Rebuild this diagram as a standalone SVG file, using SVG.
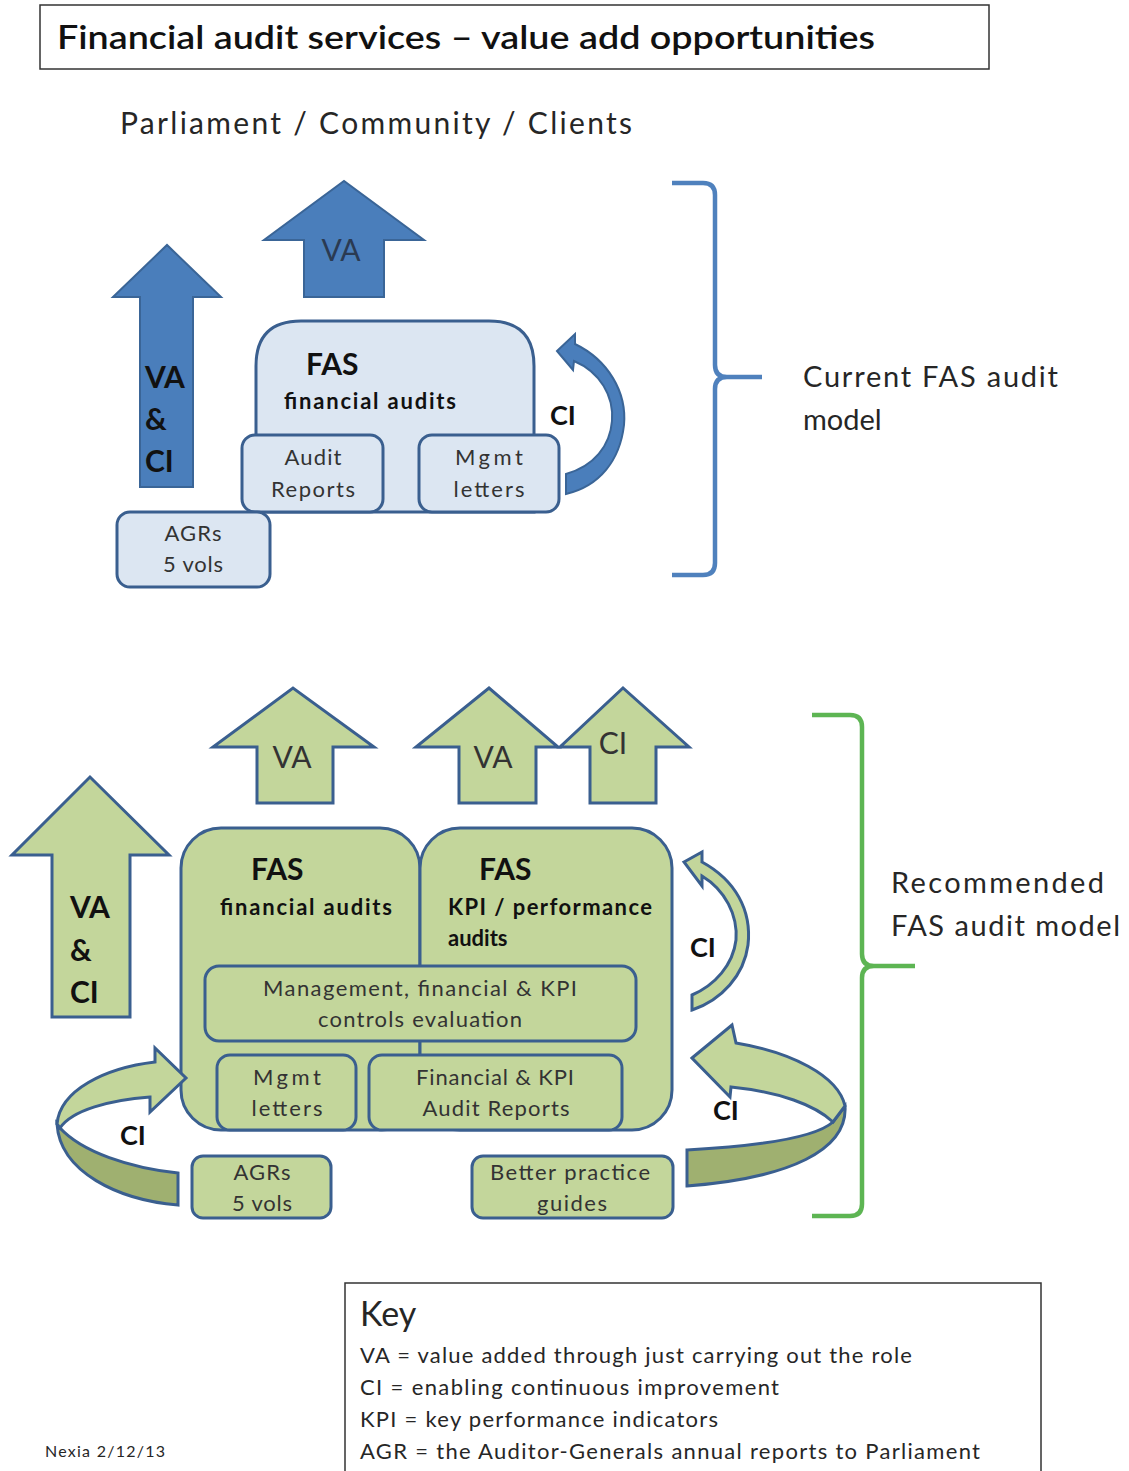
<svg xmlns="http://www.w3.org/2000/svg" width="1129" height="1471" viewBox="0 0 1129 1471">
<defs>
<style>
text{font-family:Lato,"Open Sans","Liberation Sans",sans-serif;fill:#262626}
.b{font-weight:700;fill:#111}
.box{fill:#DCE6F2;stroke:#3A5F8F;stroke-width:3}
.gbox{fill:#C3D69B;stroke:#3A5F8F;stroke-width:3}
.barr{fill:#4A7EBB;stroke:#3A6597;stroke-width:2}
.garr{fill:#C3D69B;stroke:#3A5F8F;stroke-width:3;stroke-linejoin:miter}
.gdark{fill:#9FB070;stroke:#3A5F8F;stroke-width:3}
.t22{font-size:22px;fill:#333}
.mid{text-anchor:middle}
</style>
</defs>
<rect width="1129" height="1471" fill="#fff"/>

<g id="title">
<rect x="40" y="5" width="949" height="64" fill="#fff" stroke="#333" stroke-width="1.5"/>
<text x="57" y="49" font-size="33" textLength="818" lengthAdjust="spacingAndGlyphs" style="font-weight:600;fill:#111">Financial audit services – value add opportunities</text>
</g>
<g id="audience"><text x="120" y="134" font-size="30" textLength="512">Parliament  /  Community  /  Clients</text></g>

<!-- Current model -->
<g id="cur-vaci-arrow">
<path class="barr" d="M140,487 L140,297 L113,297 L167,245 L221,297 L193,297 L193,487 Z"/>
<text class="b" x="145" y="388" font-size="30">VA</text>
<text class="b" x="145" y="430" font-size="30">&amp;</text>
<text class="b" x="145" y="472" font-size="30">CI</text>
</g>
<g id="cur-va-arrow">
<path class="barr" d="M304,297 L304,240 L264,240 L344,181 L424,240 L384,240 L384,297 Z"/>
<text class="mid" x="341" y="261" font-size="30" style="fill:#2a3a52">VA</text>
</g>
<g id="cur-fas">
<path class="box" d="M256,512 L256,366 Q256,321 301,321 L489,321 Q534,321 534,366 L534,512 Z"/>
<text class="b" x="306" y="375" font-size="30">FAS</text>
<text class="b" x="284" y="409" font-size="22" textLength="172">financial audits</text>
</g>
<g id="cur-audit-reports">
<rect class="box" x="242" y="435" width="141" height="77" rx="13"/>
<text class="t22 mid" x="313" y="465" textLength="57">Audit</text>
<text class="t22 mid" x="313" y="497" textLength="84">Reports</text>
</g>
<g id="cur-mgmt-letters">
<rect class="box" x="419" y="435" width="140" height="77" rx="13"/>
<text class="t22 mid" x="489" y="465" textLength="68">Mgmt</text>
<text class="t22 mid" x="489" y="497" textLength="71">letters</text>
</g>
<g id="cur-agrs">
<rect class="box" x="117" y="512" width="153" height="75" rx="13"/>
<text class="t22 mid" x="193" y="541" textLength="57">AGRs</text>
<text class="t22 mid" x="193" y="572" textLength="60">5 vols</text>
</g>
<g id="cur-ci-arrow">
<path class="barr" d="M557,351 L575,334 L575,344 C608,360 627,392 624,425 C620,460 600,486 566,494 L566,474 C594,466 610,446 612,421 C614,396 600,372 574,361 L573,370 Z"/>
<text class="b" x="550" y="425" font-size="27">CI</text>
</g>
<g id="cur-brace">
<path d="M672,183 L703,183 Q715,183 715,195 L715,365 Q715,377 727,377 L762,377 M727,377 Q715,377 715,389 L715,563 Q715,575 703,575 L672,575" fill="none" stroke="#4F81BD" stroke-width="4.5"/>
<text x="803" y="387" font-size="29" textLength="255">Current  FAS audit</text>
<text x="803" y="430" font-size="29">model</text>
</g>

<!-- Recommended model -->
<g id="rec-vaci-arrow">
<path class="garr" d="M52,1017 L52,855 L12,855 L90,777 L169,855 L130,855 L130,1017 Z"/>
<text class="b" x="70" y="918" font-size="30">VA</text>
<text class="b" x="70" y="961" font-size="30">&amp;</text>
<text class="b" x="70" y="1003" font-size="30">CI</text>
</g>
<g id="rec-va-arrow1">
<path class="garr" d="M257,803 L257,747 L213,747 L293,688 L374,747 L333,747 L333,803 Z"/>
<text class="mid" x="292" y="768" font-size="30" style="fill:#333">VA</text>
</g>
<g id="rec-va-arrow2">
<path class="garr" d="M459,803 L459,747 L416,747 L489,688 L558,747 L536,747 L536,803 Z"/>
<text class="mid" x="493" y="768" font-size="30" style="fill:#333">VA</text>
</g>
<g id="rec-ci-arrow-up">
<path class="garr" d="M590,803 L590,747 L560,747 L623,688 L689,747 L656,747 L656,803 Z"/>
<text class="mid" x="613" y="754" font-size="30" style="fill:#333">CI</text>
</g>
<g id="rec-fas-financial">
<rect class="gbox" x="181" y="828" width="239" height="302" rx="40"/>
<text class="b" x="251" y="880" font-size="30">FAS</text>
<text class="b" x="220" y="915" font-size="22" textLength="172">financial audits</text>
</g>
<g id="rec-fas-kpi">
<rect class="gbox" x="420" y="828" width="252" height="302" rx="40"/>
<text class="b" x="479" y="880" font-size="30">FAS</text>
<text class="b" x="448" y="915" font-size="22" textLength="204">KPI / performance</text>
<text class="b" x="448" y="946" font-size="22">audits</text>
</g>
<g id="rec-controls">
<rect class="gbox" x="205" y="966" width="431" height="75" rx="14"/>
<text class="t22 mid" x="420" y="996" textLength="314">Management, financial &amp; KPI</text>
<text class="t22 mid" x="420" y="1027" textLength="204">controls evaluation</text>
</g>
<g id="rec-mgmt-letters">
<rect class="gbox" x="217" y="1055" width="139" height="75" rx="13"/>
<text class="t22 mid" x="287" y="1085" textLength="68">Mgmt</text>
<text class="t22 mid" x="287" y="1116" textLength="71">letters</text>
</g>
<g id="rec-audit-reports">
<rect class="gbox" x="369" y="1055" width="253" height="75" rx="13"/>
<text class="t22 mid" x="495" y="1085" textLength="158">Financial &amp; KPI</text>
<text class="t22 mid" x="496" y="1116" textLength="147">Audit Reports</text>
</g>
<g id="rec-agrs">
<rect class="gbox" x="192" y="1156" width="139" height="62" rx="11"/>
<text class="t22 mid" x="262" y="1180" textLength="57">AGRs</text>
<text class="t22 mid" x="262" y="1211" textLength="60">5 vols</text>
</g>
<g id="rec-guides">
<rect class="gbox" x="472" y="1156" width="201" height="62" rx="11"/>
<text class="t22 mid" x="570" y="1180" textLength="160">Better practice</text>
<text class="t22 mid" x="572" y="1211" textLength="70">guides</text>
</g>
<g id="rec-ci-left">
<path class="gdark" d="M57,1124 C60,1172 118,1200 178,1205 L178,1173 C130,1168 82,1152 60,1128 Z"/>
<path class="garr" d="M57,1124 C60,1090 105,1068 155,1062 L155,1048 L186,1078 L150,1112 L150,1097 C110,1100 72,1110 60,1128 Z"/>
<text class="b" x="120" y="1145" font-size="27">CI</text>
</g>
<g id="rec-ci-right-top">
<path class="garr" d="M684,862 L702,852 L702,862 C735,880 752,910 748,945 C744,975 722,1000 692,1010 L692,995 C715,985 733,965 736,940 C738,915 725,890 702,876 L702,886 Z"/>
<text class="b" x="690" y="957" font-size="27">CI</text>
</g>
<g id="rec-ci-right-bottom">
<path class="gdark" d="M845,1106 C848,1150 790,1178 687,1186 L687,1150 C760,1146 815,1138 833,1122 Z"/>
<path class="garr" d="M692,1058 L732,1025 L736,1043 C790,1052 838,1075 845,1106 L833,1122 C815,1105 780,1092 731,1087 L730,1097 Z"/>
<text class="b" x="713" y="1120" font-size="27">CI</text>
</g>
<g id="rec-brace">
<path d="M812,715 L850,715 Q862,715 862,727 L862,954 Q862,966 874,966 L915,966 M874,966 Q862,966 862,978 L862,1204 Q862,1216 850,1216 L812,1216" fill="none" stroke="#5DB553" stroke-width="4.5"/>
<text x="891" y="893" font-size="29" textLength="213">Recommended</text>
<text x="891" y="936" font-size="29" textLength="229">FAS audit model</text>
</g>

<g id="key">
<rect x="345" y="1283" width="696" height="200" fill="#fff" stroke="#333" stroke-width="1.5"/>
<text x="360" y="1326" font-size="34">Key</text>
<text x="360" y="1363" font-size="22" textLength="552">VA = value added  through just carrying out the role</text>
<text x="360" y="1395" font-size="22" textLength="419">CI = enabling continuous  improvement</text>
<text x="360" y="1427" font-size="22" textLength="358">KPI = key performance indicators</text>
<text x="360" y="1459" font-size="22" textLength="620">AGR = the  Auditor-Generals annual reports to Parliament</text>
</g>
<g id="footer"><text x="45" y="1457" font-size="16" textLength="120">Nexia 2/12/13</text></g>
<g id="connectors"></g>
</svg>
